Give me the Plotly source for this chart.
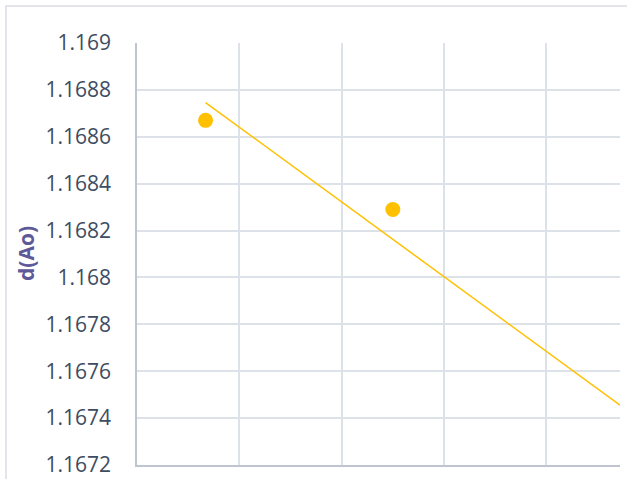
import plotly.graph_objects as go

# data
x_points = [0.67, 2.50]
y_points = [1.16867, 1.16829]
x_trend = [0.67, 4.72]
y_trend = [1.168746, 1.167455]
y_ticks = [1.1672, 1.1674, 1.1676, 1.1678, 1.168, 1.1682, 1.1684, 1.1686, 1.1688, 1.169]
y_ticktext = ["1.1672", "1.1674", "1.1676", "1.1678", "1.168", "1.1682", "1.1684", "1.1686", "1.1688", "1.169"]

gold = "#FFC000"
grid = "#DDE1E8"

fig = go.Figure()
fig.add_trace(go.Scatter(x=x_trend, y=y_trend, mode="lines",
                         line=dict(color=gold, width=1.5), hoverinfo="skip"))
fig.add_trace(go.Scatter(x=x_points, y=y_points, mode="markers",
                         marker=dict(color=gold, size=15, line=dict(width=0))))

W, H = 627, 479
L, R, T, B = 137, 7, 43, 14
pw = W - L - R
ph = H - T - B

fig.update_layout(
    width=W, height=H,
    margin=dict(l=L, r=R, t=T, b=B, autoexpand=False),
    paper_bgcolor="white", plot_bgcolor="white",
    showlegend=False,
    font=dict(family="Open Sans", color="#3E4C60"),
    xaxis=dict(range=[0, 4.72], dtick=1, tick0=0, showticklabels=False,
               showgrid=True, gridcolor=grid, gridwidth=1.5,
               showline=True, linecolor="#BFC5D0", linewidth=1.5,
               zeroline=False, fixedrange=True, automargin=False),
    yaxis=dict(range=[1.1672, 1.169], tickvals=y_ticks, ticktext=y_ticktext,
               showgrid=True, gridcolor=grid, gridwidth=1.5,
               showline=True, linecolor="#BFC5D0", linewidth=1.5,
               zeroline=False, ticklabelstandoff=20, automargin=False,
               tickfont=dict(family="Open Sans", size=21, color="#3E4C60")),
    annotations=[dict(text="<b>d(Ao)</b>", textangle=-90, showarrow=False,
                      xref="paper", yref="paper",
                      x=(26 - L) / pw, y=0.5, xanchor="center", yanchor="middle",
                      font=dict(family="Open Sans", size=21, color="#5E5A9A"))],
    shapes=[dict(type="rect", xref="paper", yref="paper",
                 x0=(6 - L) / pw, x1=1.2, y0=-0.2, y1=(H - B - 6) / ph,
                 line=dict(color="#DADDE3", width=1.5), layer="below")],
)

fig.write_html("out.html")
